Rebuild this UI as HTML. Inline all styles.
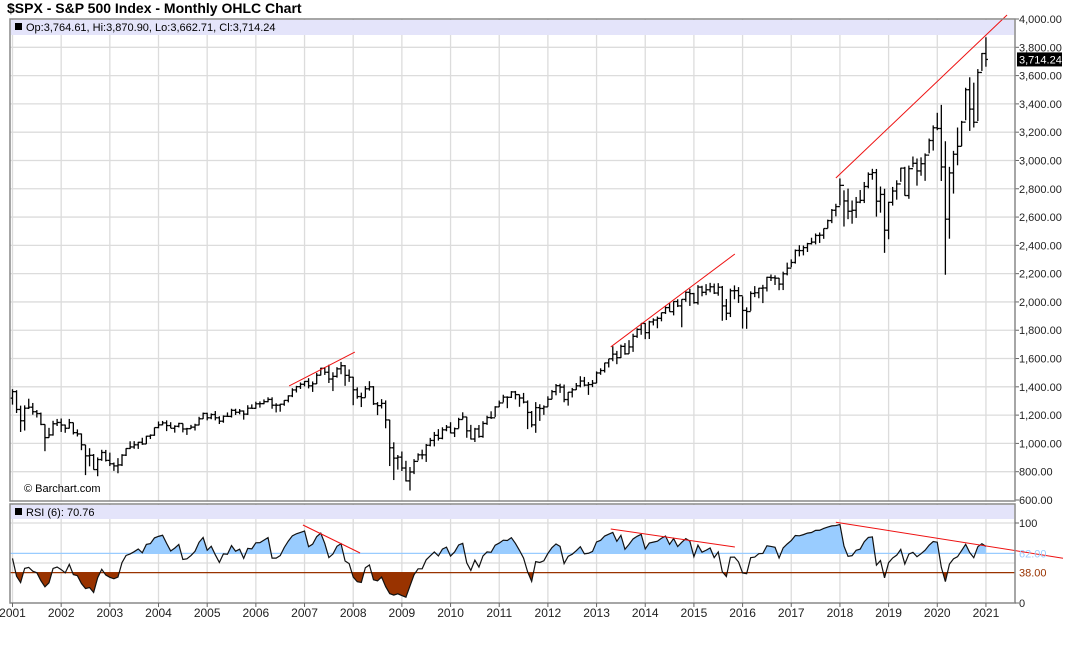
<!DOCTYPE html>
<html><head><meta charset="utf-8">
<style>
html,body{margin:0;padding:0;background:#fff;}
svg{display:block;font-family:"Liberation Sans",sans-serif;}
</style></head>
<body>
<svg id="chart" width="1065" height="645" viewBox="0 0 1065 645" xmlns="http://www.w3.org/2000/svg">
<text x="7" y="13" font-size="14" font-weight="bold" fill="#000">$SPX - S&amp;P 500 Index - Monthly OHLC Chart</text>
<g id="main"></g>
<g id="rsi"></g>
<g id="xaxis"></g>
</svg>
<script>
const preCloses=[1340,1310,1330,1290,1260,1320];
const firstOpen=1320;
const closes=[
1366,1240,1160,1249,1256,1224,1211,1134,1041,1060,1139,1148,
1130,1107,1147,1076,1067,990,912,916,815,886,936,880,
856,841,848,917,964,975,990,1008,996,1051,1058,1112,
1131,1145,1126,1107,1121,1141,1102,1104,1115,1130,1174,1212,
1181,1204,1181,1157,1192,1191,1234,1220,1229,1207,1249,1248,
1280,1281,1295,1311,1270,1270,1277,1304,1336,1378,1401,1418,
1438,1407,1421,1482,1531,1503,1455,1474,1527,1549,1481,1468,
1379,1331,1323,1386,1400,1280,1267,1283,1166,969,896,903,
826,735,798,873,919,919,987,1021,1057,1036,1096,1115,
1074,1104,1169,1187,1089,1031,1102,1049,1141,1183,1181,1258,
1286,1327,1326,1364,1345,1321,1292,1219,1131,1253,1247,1258,
1312,1366,1408,1398,1310,1362,1379,1407,1441,1412,1416,1426,
1498,1515,1569,1598,1631,1606,1686,1633,1682,1757,1806,1848,
1783,1859,1872,1884,1924,1960,1931,2003,1972,2018,2068,2059,
1995,2105,2068,2086,2107,2063,2104,1972,1920,2079,2080,2044,
1940,1932,2060,2065,2097,2099,2174,2171,2168,2126,2199,2239,
2279,2364,2363,2384,2412,2423,2470,2472,2519,2575,2648,2674,
2824,2714,2641,2648,2705,2718,2816,2902,2914,2712,2760,2507,
2704,2784,2834,2946,2752,2942,2980,2926,2977,3038,3141,3231,
3226,2954,2585,2912,3044,3100,3271,3500,3363,3270,3622,3756,
3714.24];
const highs=[
1383,1376,1267,1269,1316,1286,1236,1218,1135,1110,1160,1173,
1176,1133,1173,1147,1099,1070,990,966,925,901,955,954,
935,865,896,924,966,1015,1016,1011,1040,1054,1064,1112,
1155,1159,1163,1150,1128,1146,1141,1110,1131,1139,1188,1218,
1217,1212,1229,1192,1198,1219,1245,1245,1243,1233,1270,1276,
1295,1297,1311,1326,1326,1284,1280,1306,1340,1390,1407,1431,
1441,1461,1438,1499,1535,1540,1556,1503,1539,1576,1554,1523,
1471,1396,1359,1405,1440,1405,1292,1313,1304,1167,1008,918,
943,877,833,889,930,956,996,1039,1081,1101,1114,1130,
1150,1112,1181,1220,1188,1131,1110,1130,1157,1196,1227,1263,
1303,1344,1333,1370,1371,1345,1357,1304,1229,1292,1277,1269,
1333,1378,1420,1422,1416,1363,1392,1427,1475,1470,1434,1448,
1509,1531,1570,1598,1687,1654,1698,1709,1730,1775,1814,1849,
1850,1867,1884,1897,1925,1968,1992,2005,2019,2019,2075,2093,
2064,2119,2114,2126,2135,2130,2133,2113,2021,2094,2117,2105,
2039,1962,2075,2112,2100,2121,2178,2194,2188,2170,2214,2278,
2301,2371,2401,2399,2418,2454,2484,2491,2519,2582,2657,2694,
2873,2789,2801,2717,2742,2791,2848,2916,2941,2940,2816,2800,
2708,2813,2860,2949,2955,2964,3028,3014,3022,3050,3155,3248,
3337,3393,3136,2955,3068,3233,3280,3514,3588,3550,3646,3760,
3870.9];
const lows=[
1274,1215,1081,1091,1243,1203,1183,1129,945,1040,1055,1123,
1081,1075,1105,1063,1049,952,776,838,815,768,877,872,
840,806,789,840,911,960,962,961,990,996,1031,1054,
1107,1128,1087,1108,1076,1113,1078,1060,1102,1091,1128,1173,
1163,1171,1163,1137,1146,1188,1183,1201,1206,1168,1201,1246,
1245,1253,1277,1291,1245,1219,1224,1266,1290,1327,1360,1385,
1403,1389,1364,1420,1480,1484,1427,1370,1465,1489,1407,1435,
1270,1316,1257,1324,1373,1272,1200,1247,1107,840,741,815,
805,731,667,783,879,888,869,979,979,1020,1029,1086,
1071,1045,1106,1170,1040,1028,1010,1040,1040,1131,1173,1187,
1257,1290,1249,1321,1311,1259,1283,1101,1114,1075,1159,1202,
1259,1312,1340,1357,1291,1267,1325,1378,1396,1403,1343,1398,
1426,1485,1501,1537,1581,1560,1604,1627,1633,1647,1746,1768,
1737,1738,1834,1814,1863,1915,1931,1905,1964,1821,2001,1972,
1988,1981,2040,2048,2068,2056,2044,1867,1872,1893,2019,1993,
1812,1810,1937,2034,2026,1992,2074,2148,2120,2083,2084,2188,
2245,2271,2322,2329,2353,2406,2407,2417,2446,2520,2557,2605,
2682,2533,2585,2553,2594,2698,2699,2803,2864,2603,2631,2347,
2443,2681,2723,2849,2751,2729,2952,2822,2892,2856,3050,3070,
3214,2855,2192,2447,2766,2966,3101,3284,3209,3233,3279,3633,
3662.7];
const yearLabels=["2001","2002","2003","2004","2005","2006","2007","2008","2009","2010","2011","2012","2013","2014","2015","2016","2017","2018","2019","2020","2021"];
const priceTicks=[600,800,1000,1200,1400,1600,1800,2000,2200,2400,2600,2800,3000,3200,3400,3600,3800,4000];
const priceTrendLines=[[68.2,1406,84.4,1646],[147.5,1682,178.1,2339],[203,2876,245.2,4028]];
const rsiTrendLines=[[71.6,97.5,85.7,62.5],[147.5,92.5,178.1,70],[203,101,259,56]];
const rsiPeriod=6;

const NS="http://www.w3.org/2000/svg";
const X0=12.5,DX=4.056;
const PL=10,PR=1015,PT=19,PB=501,RT=504,RB=603;
function xs(i){return X0+i*DX;}
function yp(v){return PT+(4000-v)*(PB-1-PT)/3400;}
function yr(v){return RB-v*0.8;}
function fmt(v){return v.toLocaleString('en-US',{minimumFractionDigits:2,maximumFractionDigits:2});}
function mk(parent,tag,attrs){const e=document.createElementNS(NS,tag);for(const k in attrs)e.setAttribute(k,attrs[k]);parent.appendChild(e);return e;}

const main=document.getElementById('main');
const rsiG=document.getElementById('rsi');
const xg=document.getElementById('xaxis');

let bg=mk(main,'rect',{x:PL,y:PT,width:PR-PL,height:PB-PT,fill:'#fff'});


priceTicks.forEach(v=>{
  const y=yp(v);
  if(v>600&&v<4000){let g=mk(main,'line',{x1:PL,x2:PR,y1:y,y2:y,stroke:'#dcdcdc','stroke-width':1.3});
  
  }
  mk(main,'line',{x1:PR,x2:PR+4,y1:y,y2:y,stroke:'#666'});
  let t=mk(main,'text',{x:PR+4,y:y+4,'font-size':11,fill:'#222'});t.textContent=fmt(v);
  
  
});
yearLabels.forEach((lab,k)=>{
  const x=xs(k*12);
  let g=mk(main,'line',{x1:x,x2:x,y1:PT,y2:PB,stroke:'#dcdcdc','stroke-width':1.3});
  
  
  let g2=mk(rsiG,'line',{x1:x,x2:x,y1:RT,y2:RB,stroke:'#dcdcdc','stroke-width':1.3});
  
  
  mk(xg,'line',{x1:x,x2:x,y1:RB,y2:RB+4,stroke:'#666'});
  let t=mk(xg,'text',{x:x,y:RB+14,'font-size':12,fill:'#222','text-anchor':'middle'});t.textContent=lab;
  
  
});
let hb=mk(main,'rect',{x:PL+1,y:PT+1,width:PR-PL-2,height:15,fill:'#e4e4fa'});


mk(main,'rect',{x:15,y:23,width:7,height:7,fill:'#000'});
let ht=mk(main,'text',{x:26,y:31,'font-size':11,fill:'#000'});
ht.textContent='Op:3,764.61, Hi:3,870.90, Lo:3,662.71, Cl:3,714.24';


let cp=mk(main,'text',{x:24,y:492,'font-size':11,fill:'#000'});cp.textContent='© Barchart.com';



for(let i=0;i<closes.length;i++){
  const o=i===0?firstOpen:closes[i-1];
  const x=xs(i);
  const g=mk(main,'g',{stroke:'#000','stroke-width':1.3});
  
  
  mk(g,'line',{x1:x,x2:x,y1:yp(highs[i]),y2:yp(lows[i])});
  mk(g,'line',{x1:x-2,x2:x,y1:yp(o),y2:yp(o)});
  mk(g,'line',{x1:x,x2:x+2,y1:yp(closes[i]),y2:yp(closes[i])});
}
priceTrendLines.forEach(l=>{
  let ln=mk(main,'line',{x1:xs(l[0]),y1:yp(l[1]),x2:xs(l[2]),y2:yp(l[3]),stroke:'#ee1111','stroke-width':1});
  
  
});
mk(main,'rect',{x:PL,y:PT,width:PR-PL,height:PB-PT,fill:'none',stroke:'#888','stroke-width':1.5});
const last=closes[closes.length-1];
let lb=mk(main,'rect',{x:PR+2,y:yp(last)-7,width:45,height:14,fill:'#000'});


let lt=mk(main,'text',{x:PR+4,y:yp(last)+4,'font-size':11,fill:'#fff'});lt.textContent=fmt(last);



const all=preCloses.concat(closes);
let ag=0,al=0;
for(let k=1;k<=rsiPeriod;k++){const d=all[k]-all[k-1];if(d>0)ag+=d;else al-=d;}
ag/=rsiPeriod;al/=rsiPeriod;
const rsiVals=[];
for(let k=rsiPeriod;k<all.length;k++){
  if(k>rsiPeriod){const d=all[k]-all[k-1];ag=(ag*(rsiPeriod-1)+Math.max(d,0))/rsiPeriod;al=(al*(rsiPeriod-1)+Math.max(-d,0))/rsiPeriod;}
  const r=al===0?100:100-100/(1+ag/al);
  if(k>=preCloses.length)rsiVals.push(r);
}
mk(rsiG,'rect',{x:PL+1,y:RT+1,width:PR-PL-2,height:14,fill:'#e4e4fa'});
[100,50].forEach(v=>{let g=mk(rsiG,'line',{x1:PL,x2:PR,y1:yr(v),y2:yr(v),stroke:'#dcdcdc','stroke-width':1.3});
  });
mk(rsiG,'rect',{x:15,y:508,width:7,height:7,fill:'#000'});
let rt=mk(rsiG,'text',{x:26,y:516,'font-size':11,fill:'#000'});rt.textContent='RSI (6): 70.76';


const defs=mk(rsiG,'defs',{});
const c1=mk(defs,'clipPath',{id:'above'});mk(c1,'rect',{x:PL,y:RT,width:PR-PL,height:yr(62)-RT});
const c2=mk(defs,'clipPath',{id:'below'});mk(c2,'rect',{x:PL,y:yr(38),width:PR-PL,height:RB-yr(38)});
let pts=rsiVals.map((r,i)=>xs(i).toFixed(2)+','+yr(r).toFixed(2));
const fa=mk(rsiG,'polygon',{points:xs(0)+','+yr(62)+' '+pts.join(' ')+' '+xs(rsiVals.length-1)+','+yr(62),fill:'#99ccff','clip-path':'url(#above)'});


const fb=mk(rsiG,'polygon',{points:xs(0)+','+yr(38)+' '+pts.join(' ')+' '+xs(rsiVals.length-1)+','+yr(38),fill:'#993300','clip-path':'url(#below)'});


let l62=mk(rsiG,'line',{x1:PL,x2:PR,y1:yr(62),y2:yr(62),stroke:'#99ccff','stroke-width':1.3});


let l38=mk(rsiG,'line',{x1:PL,x2:PR,y1:yr(38),y2:yr(38),stroke:'#993300','stroke-width':1.3});


let rl=mk(rsiG,'polyline',{points:pts.join(' '),fill:'none',stroke:'#111','stroke-width':1.2});


rsiTrendLines.forEach(l=>{
  let ln=mk(rsiG,'line',{x1:xs(l[0]),y1:yr(l[1]),x2:xs(l[2]),y2:yr(l[3]),stroke:'#ee1111','stroke-width':1});
  
  
});
mk(rsiG,'rect',{x:PL,y:RT,width:PR-PL,height:RB-RT,fill:'none',stroke:'#888','stroke-width':1.5});
[[100,'100','#222'],[0,'0','#222']].forEach(a=>{
  mk(rsiG,'line',{x1:PR,x2:PR+4,y1:yr(a[0]),y2:yr(a[0]),stroke:'#666'});
  let t=mk(rsiG,'text',{x:PR+4,y:yr(a[0])+4,'font-size':11,fill:a[2]});t.textContent=a[1];
  
  
});
let t62=mk(rsiG,'text',{x:PR+4,y:yr(62)+4,'font-size':11,fill:'#99ccff'});t62.textContent='62.00';


let t38=mk(rsiG,'text',{x:PR+4,y:yr(38)+4,'font-size':11,fill:'#993300'});t38.textContent='38.00';


</script>
</body></html>
